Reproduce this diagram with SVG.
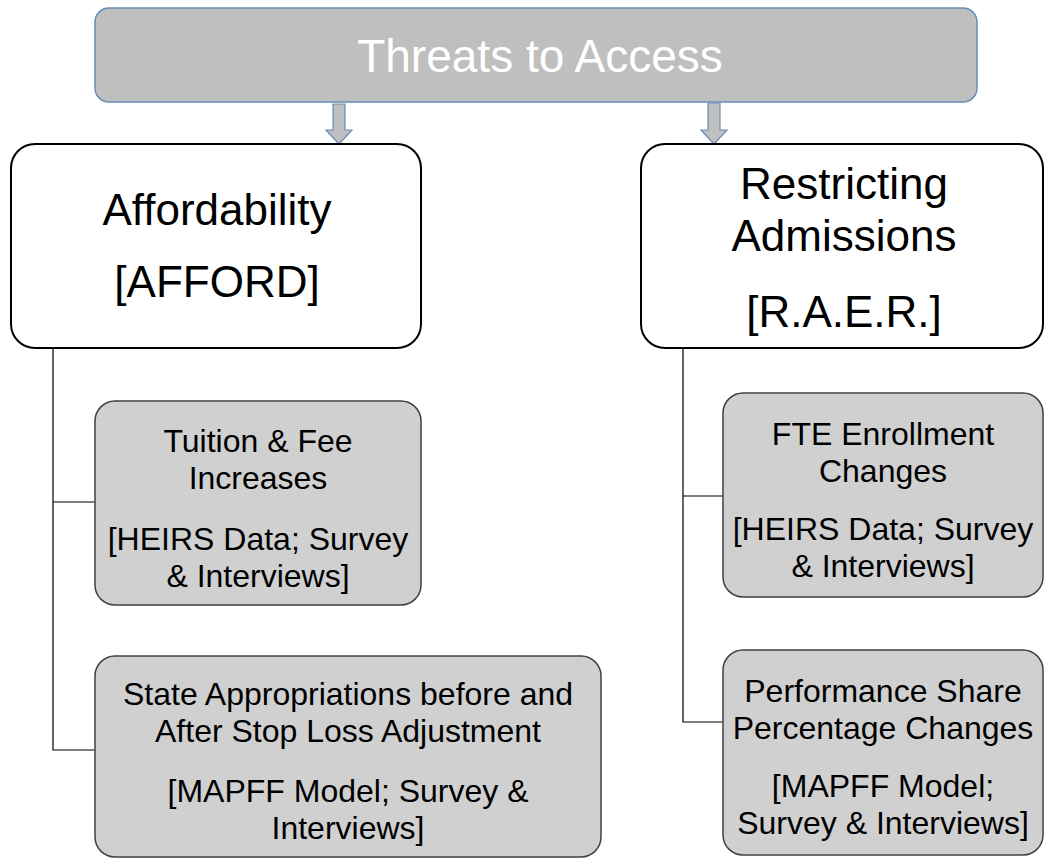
<svg xmlns="http://www.w3.org/2000/svg" width="1045" height="859" viewBox="0 0 1045 859">
<style>
text{font-family:"Liberation Sans",Arial,sans-serif;text-anchor:middle;fill:#000}
.title{fill:#fff;font-size:46px}
.big{font-size:44px}
.sub{font-size:32px}
.main{fill:#fff;stroke:#000;stroke-width:2}
.leaf{fill:#d0d0d0;stroke:#404040;stroke-width:1.5}
.arrow{fill:#bfbfbf;stroke:#6a8cba;stroke-width:1.2}
.conn{fill:none;stroke:#000;stroke-width:1.2}
</style>
<rect width="1045" height="859" fill="#fff"/>
<g id="connectors">
<path class="conn" d="M53 348V750H95M53 502H95"/>
<path class="conn" d="M683 348V722H723M683 496H723"/>
<path class="arrow" d="M333 104H345V130H352L339 144L326 130H333Z"/>
<path class="arrow" d="M708 103H720V130H727L714 144L701 130H708Z"/>
</g>
<g id="threats">
<rect x="95" y="8" width="882" height="94" rx="14" fill="#bfbfbf" stroke="#6a8cba" stroke-width="1.5"/>
<text class="title" x="540" y="72">Threats to Access</text>
</g>
<g id="affordability">
<rect class="main" x="11" y="144" width="410" height="204" rx="24"/>
<text class="big" x="217" y="225">Affordability</text>
<text class="big" x="217" y="297">[AFFORD]</text>
</g>
<g id="restricting">
<rect class="main" x="641" y="144" width="402" height="204" rx="24"/>
<text class="big" x="844" y="199">Restricting</text>
<text class="big" x="844" y="251">Admissions</text>
<text class="big" x="844" y="327">[R.A.E.R.]</text>
</g>
<g id="tuition">
<rect class="leaf" x="95" y="401" width="326" height="204" rx="20"/>
<text class="sub" x="258" y="452">Tuition &amp; Fee</text>
<text class="sub" x="258" y="489">Increases</text>
<text class="sub" x="258" y="550">[HEIRS Data; Survey</text>
<text class="sub" x="258" y="587">&amp; Interviews]</text>
</g>
<g id="state">
<rect class="leaf" x="95" y="656" width="506" height="201" rx="20"/>
<text class="sub" x="348" y="705">State Appropriations before and</text>
<text class="sub" x="348" y="742">After Stop Loss Adjustment</text>
<text class="sub" x="348" y="802">[MAPFF Model; Survey &amp;</text>
<text class="sub" x="348" y="839">Interviews]</text>
</g>
<g id="fte">
<rect class="leaf" x="723" y="393" width="320" height="204" rx="20"/>
<text class="sub" x="883" y="445">FTE Enrollment</text>
<text class="sub" x="883" y="482">Changes</text>
<text class="sub" x="883" y="540">[HEIRS Data; Survey</text>
<text class="sub" x="883" y="577">&amp; Interviews]</text>
</g>
<g id="performance">
<rect class="leaf" x="723" y="650" width="320" height="205" rx="20"/>
<text class="sub" x="883" y="702">Performance Share</text>
<text class="sub" x="883" y="739">Percentage Changes</text>
<text class="sub" x="883" y="797">[MAPFF Model;</text>
<text class="sub" x="883" y="834">Survey &amp; Interviews]</text>
</g>
</svg>
